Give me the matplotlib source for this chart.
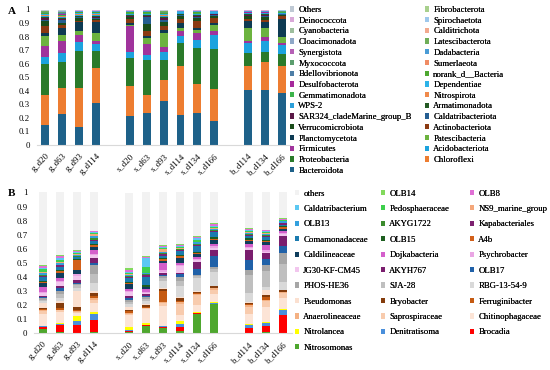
import numpy as np
import matplotlib.pyplot as plt

plt.rcParams['font.family'] = ['Liberation Serif', 'DejaVu Serif']

# sample order on the x axis, '' marks the gap between groups
labels = ['g_d20', 'g_d63', 'g_d93', 'g_d114', '',
          's_d20', 's_d63', 's_d93', 's_d114', 's_d134', 's_d166', '',
          'b_d114', 'b_d134', 'b_d166']

# ---- panel A: phyla, bottom of the stack first ----
phyla = ['Bacteroidota', 'Chloroflexi', 'Proteobacteria', 'Acidobacteriota',
         'Firmicutes', 'Patescibacteria', 'Planctomycetota', 'Actinobacteriota',
         'Verrucomicrobiota', 'Caldatribacteriota', 'SAR324_cladeMarine_group_B',
         'Armatimonadota', 'WPS-2', 'Nitrospirota', 'Gemmatimonadota',
         'Dependentiae', 'Desulfobacterota', 'norank_d__Bacteria',
         'Bdellovibrionota', 'Sumerlaeota', 'Myxococcota', 'Dadabacteria',
         'Synergistota', 'Latescibacterota', 'Cloacimonadota', 'Calditrichota',
         'Cyanobacteria', 'Spirochaetota', 'Deinococcota', 'Fibrobacterota',
         'Others']
phyla_colors = ['#1E6189', '#ED7D31', '#2A7A2A', '#1CA3DE', '#A0339C', '#6CB33F',
                '#0D3A52', '#8B3A12', '#1B4D1B', '#255E91', '#5A1846', '#245A24',
                '#2B9FDA', '#F08A4B', '#3CB44B', '#2CB3E8', '#A6299C', '#4DA830',
                '#4E7EA6', '#F08C64', '#5C9E6E', '#4A9CD6', '#B660B5', '#6FAE58',
                '#8FA8C8', '#F2A98E', '#9DBE9D', '#9EC8EC', '#D9A8D8', '#A8D08D',
                '#BFC9D4']

g_d20_a = [0.15, 0.22, 0.235, 0.045, 0.085, 0.075, 0.02, 0.055, 0.035, 0.01, 0.010, 0.012, 0.008, 0.004, 0.004, 0.003, 0.004, 0.003, 0.003, 0.002, 0.003, 0.002, 0.002, 0.002, 0.001, 0.001, 0.001, 0.001, 0.001, 0.001, 0.008]
g_d63_a = [0.23, 0.19, 0.195, 0.07, 0.085, 0.05, 0.045, 0.025, 0.015, 0.02, 0.008, 0.010, 0.010, 0.005, 0.005, 0.004, 0.005, 0.004, 0.003, 0.003, 0.003, 0.002, 0.002, 0.002, 0.002, 0.001, 0.001, 0.001, 0.001, 0.001, 0.008]
g_d93_a = [0.13, 0.295, 0.275, 0.06, 0.055, 0.03, 0.065, 0.01, 0.02, 0.005, 0.006, 0.008, 0.006, 0.003, 0.004, 0.003, 0.004, 0.003, 0.002, 0.002, 0.002, 0.002, 0.001, 0.001, 0.001, 0.001, 0.001, 0.001, 0.001, 0.001, 0.006]
g_d114_a = [0.315, 0.255, 0.13, 0.05, 0.02, 0.06, 0.085, 0.01, 0.01, 0.01, 0.008, 0.007, 0.008, 0.003, 0.004, 0.003, 0.003, 0.003, 0.002, 0.002, 0.002, 0.002, 0.001, 0.001, 0.001, 0.001, 0.001, 0.001, 0.001, 0.001, 0.006]
s_d20_a = [0.215, 0.22, 0.21, 0.045, 0.19, 0.01, 0.01, 0.035, 0.01, 0.005, 0.008, 0.006, 0.005, 0.003, 0.003, 0.002, 0.003, 0.002, 0.002, 0.002, 0.002, 0.001, 0.001, 0.001, 0.001, 0.001, 0.001, 0.001, 0.001, 0.001, 0.006]
s_d63_a = [0.235, 0.135, 0.26, 0.035, 0.085, 0.045, 0.01, 0.04, 0.05, 0.055, 0.006, 0.008, 0.006, 0.003, 0.003, 0.003, 0.003, 0.002, 0.002, 0.002, 0.002, 0.001, 0.001, 0.001, 0.001, 0.001, 0.001, 0.001, 0.001, 0.001, 0.006]
s_d93_a = [0.33, 0.155, 0.145, 0.06, 0.04, 0.105, 0.02, 0.025, 0.03, 0.015, 0.015, 0.010, 0.008, 0.004, 0.005, 0.003, 0.004, 0.003, 0.003, 0.003, 0.003, 0.002, 0.002, 0.002, 0.001, 0.001, 0.001, 0.001, 0.001, 0.001, 0.008]
s_d114_a = [0.225, 0.36, 0.175, 0.05, 0.035, 0.025, 0.04, 0.03, 0.02, 0.005, 0.004, 0.005, 0.004, 0.002, 0.003, 0.002, 0.002, 0.002, 0.001, 0.001, 0.001, 0.001, 0.001, 0.001, 0.001, 0.001, 0.001, 0.001, 0.001, 0.001, 0.006]
s_d134_a = [0.24, 0.21, 0.27, 0.055, 0.055, 0.02, 0.015, 0.05, 0.025, 0.01, 0.006, 0.007, 0.006, 0.003, 0.003, 0.002, 0.003, 0.002, 0.002, 0.002, 0.002, 0.001, 0.001, 0.001, 0.001, 0.001, 0.001, 0.001, 0.001, 0.001, 0.006]
s_d166_a = [0.18, 0.235, 0.30, 0.10, 0.035, 0.04, 0.015, 0.035, 0.015, 0.01, 0.004, 0.005, 0.004, 0.002, 0.002, 0.002, 0.002, 0.002, 0.001, 0.001, 0.001, 0.001, 0.001, 0.001, 0.001, 0.001, 0.001, 0.001, 0.001, 0.001, 0.006]
b_d114_a = [0.405, 0.18, 0.10, 0.075, 0.015, 0.09, 0.055, 0.015, 0.02, 0.005, 0.005, 0.006, 0.005, 0.002, 0.002, 0.002, 0.002, 0.002, 0.002, 0.001, 0.001, 0.001, 0.001, 0.001, 0.001, 0.001, 0.001, 0.001, 0.001, 0.001, 0.006]
b_d134_a = [0.405, 0.21, 0.075, 0.08, 0.03, 0.07, 0.04, 0.02, 0.02, 0.01, 0.005, 0.006, 0.005, 0.002, 0.002, 0.002, 0.002, 0.002, 0.002, 0.001, 0.001, 0.001, 0.001, 0.001, 0.001, 0.001, 0.001, 0.001, 0.001, 0.001, 0.006]
b_d166_a = [0.39, 0.20, 0.085, 0.07, 0.015, 0.04, 0.14, 0.015, 0.01, 0.005, 0.003, 0.004, 0.004, 0.002, 0.002, 0.002, 0.002, 0.001, 0.001, 0.001, 0.001, 0.001, 0.001, 0.001, 0.001, 0.001, 0.001, 0.001, 0.001, 0.001, 0.005]

# ---- panel B: genera, bottom of the stack first ----
genera = ['Nitrosomonas', 'Brocadia', 'Denitratisoma', 'Nitrolancea',
          'Chitinophagaceae', 'Saprospiraceae', 'Anaerolineaceae',
          'Ferruginibacter', 'Bryobacter', 'Pseudomonas', 'RBG-13-54-9',
          'SJA-28', 'PHOS-HE36', 'OLB17', 'AKYH767', 'JG30-KF-CM45',
          'Psychrobacter', 'Dojkabacteria', 'Caldilineaceae', 'A4b', 'OLB15',
          'Comamonadaceae', 'Kapabacteriales', 'AKYG1722', 'OLB13',
          'NS9_marine_group', 'Pedosphaeraceae', 'Caldatribacterium', 'OLB8',
          'OLB14', 'others']
genera_colors = ['#4EA72E', '#FF0000', '#4A8FDB', '#FFFF00', '#FCE4D6', '#F8CBAD',
                 '#F4B183', '#C55A11', '#843C0C', '#FBE0D0', '#D9D9D9', '#BFBFBF',
                 '#A6A6A6', '#2061A8', '#7A1E6E', '#F2C6EE', '#EAA6E4', '#D45FCB',
                 '#0F3D5C', '#D2601A', '#1D5E1F', '#1B7BAF', '#7D2170', '#3C8C2E',
                 '#33A0DE', '#F4A77A', '#3ECF4C', '#5CC8F2', '#E070D5', '#82D95C',
                 '#F2F2F2']

g_d20_b = [0.03, 0.015, 0.005, 0.005, 0.08, 0.02, 0.01, 0.008, 0.01, 0.03, 0.015, 0.01, 0.01, 0.012, 0.008, 0.02, 0.008, 0.03, 0.03, 0.008, 0.008, 0.03, 0.006, 0.006, 0.012, 0.006, 0.025, 0.01, 0.01, 0.01, 0.513]
g_d63_b = [0.01, 0.05, 0.005, 0.007, 0.08, 0.01, 0.005, 0.01, 0.035, 0.02, 0.02, 0.025, 0.025, 0.02, 0.012, 0.03, 0.01, 0.02, 0.035, 0.01, 0.01, 0.025, 0.008, 0.006, 0.01, 0.008, 0.015, 0.015, 0.015, 0.005, 0.444]
g_d93_b = [0.005, 0.055, 0.025, 0.04, 0.02, 0.005, 0.005, 0.01, 0.02, 0.115, 0.02, 0.02, 0.01, 0.008, 0.02, 0.03, 0.01, 0.005, 0.03, 0.07, 0.008, 0.008, 0.006, 0.005, 0.006, 0.006, 0.006, 0.006, 0.008, 0.008, 0.41]
g_d114_b = [0.01, 0.085, 0.045, 0.008, 0.07, 0.02, 0.01, 0.02, 0.02, 0.01, 0.06, 0.06, 0.07, 0.01, 0.035, 0.02, 0.01, 0.025, 0.025, 0.01, 0.01, 0.02, 0.01, 0.01, 0.02, 0.01, 0.008, 0.008, 0.005, 0.005, 0.27]
s_d20_b = [0.01, 0.005, 0.01, 0.02, 0.085, 0.01, 0.005, 0.01, 0.01, 0.02, 0.02, 0.02, 0.015, 0.01, 0.012, 0.03, 0.01, 0.01, 0.035, 0.008, 0.008, 0.03, 0.006, 0.005, 0.01, 0.008, 0.008, 0.008, 0.015, 0.008, 0.54]
s_d63_b = [0.055, 0.003, 0.003, 0.01, 0.1, 0.005, 0.005, 0.008, 0.012, 0.01, 0.02, 0.015, 0.01, 0.01, 0.01, 0.01, 0.01, 0.02, 0.01, 0.005, 0.01, 0.06, 0.015, 0.005, 0.005, 0.005, 0.04, 0.06, 0.012, 0.006, 0.45]
s_d93_b = [0.04, 0.008, 0.003, 0.003, 0.14, 0.02, 0.01, 0.08, 0.008, 0.01, 0.05, 0.02, 0.015, 0.01, 0.01, 0.01, 0.015, 0.05, 0.015, 0.01, 0.01, 0.015, 0.01, 0.008, 0.008, 0.02, 0.01, 0.005, 0.008, 0.01, 0.37]
s_d114_b = [0.015, 0.03, 0.02, 0.025, 0.04, 0.08, 0.01, 0.01, 0.02, 0.005, 0.08, 0.035, 0.03, 0.02, 0.01, 0.045, 0.01, 0.01, 0.04, 0.01, 0.01, 0.025, 0.01, 0.005, 0.005, 0.005, 0.008, 0.005, 0.006, 0.008, 0.365]
s_d134_b = [0.14, 0.003, 0.003, 0.005, 0.05, 0.07, 0.01, 0.005, 0.01, 0.005, 0.095, 0.01, 0.01, 0.04, 0.05, 0.015, 0.01, 0.01, 0.02, 0.008, 0.01, 0.04, 0.01, 0.008, 0.01, 0.005, 0.01, 0.015, 0.008, 0.006, 0.31]
s_d166_b = [0.21, 0.002, 0.002, 0.006, 0.06, 0.03, 0.01, 0.005, 0.01, 0.005, 0.10, 0.02, 0.01, 0.08, 0.04, 0.02, 0.01, 0.018, 0.025, 0.01, 0.012, 0.035, 0.008, 0.008, 0.01, 0.005, 0.008, 0.008, 0.01, 0.006, 0.22]
b_d114_b = [0.005, 0.035, 0.02, 0.005, 0.075, 0.05, 0.01, 0.005, 0.01, 0.005, 0.065, 0.13, 0.035, 0.07, 0.07, 0.012, 0.01, 0.02, 0.025, 0.008, 0.01, 0.012, 0.01, 0.005, 0.012, 0.005, 0.005, 0.01, 0.005, 0.005, 0.255]
b_d134_b = [0.01, 0.045, 0.02, 0.005, 0.11, 0.04, 0.01, 0.02, 0.015, 0.03, 0.025, 0.11, 0.045, 0.045, 0.04, 0.01, 0.01, 0.04, 0.02, 0.008, 0.008, 0.02, 0.008, 0.005, 0.01, 0.005, 0.005, 0.008, 0.005, 0.005, 0.265]
b_d166_b = [0.003, 0.13, 0.035, 0.006, 0.075, 0.035, 0.008, 0.005, 0.008, 0.005, 0.055, 0.125, 0.085, 0.045, 0.075, 0.012, 0.008, 0.015, 0.015, 0.008, 0.01, 0.01, 0.01, 0.005, 0.008, 0.004, 0.004, 0.005, 0.004, 0.004, 0.185]

samples_a = [g_d20_a, g_d63_a, g_d93_a, g_d114_a, s_d20_a, s_d63_a, s_d93_a,
             s_d114_a, s_d134_a, s_d166_a, b_d114_a, b_d134_a, b_d166_a]
samples_b = [g_d20_b, g_d63_b, g_d93_b, g_d114_b, s_d20_b, s_d63_b, s_d93_b,
             s_d114_b, s_d134_b, s_d166_b, b_d114_b, b_d134_b, b_d166_b]

FS = 6.3


def draw_panel(ax, samples, names, colors):
    x = [i for i, s in enumerate(labels) if s]
    data = np.array(samples, dtype=float)
    data = data / data.sum(axis=1, keepdims=True)  # 100 % stacked
    bottom = np.zeros(len(x))
    handles = []
    for j, (name, col) in enumerate(zip(names, colors)):
        h = ax.bar(x, data[:, j], 0.47, bottom=bottom, color=col, label=name,
                   linewidth=0)
        bottom += data[:, j]
        handles.append(h)
    ax.set_xlim(-0.5, len(labels) - 0.5)
    ax.set_ylim(0, 1)
    yt = np.round(np.arange(0, 1.01, 0.1), 1)
    ax.set_yticks(yt)
    ax.set_yticklabels(['0' if v == 0 else ('1' if v == 1 else f'{v:g}') for v in yt],
                       fontsize=FS)
    ax.set_xticks(range(len(labels)))
    ax.set_xticklabels(labels, rotation=45, ha='right', rotation_mode='anchor',
                       fontsize=FS)
    ax.tick_params(length=0, pad=5)
    for side in ['top', 'right', 'left']:
        ax.spines[side].set_visible(False)
    ax.spines['bottom'].set_color('#D9D9D9')
    ax.spines['bottom'].set_linewidth(0.8)
    return handles


def add_legend(fig, handles, names, ncol, xs, y_top, spacing):
    # Excel style: legend reads row by row, top of the stack first
    rev_h = handles[::-1]
    rev_n = names[::-1]
    for k in range(ncol):
        leg = fig.legend(rev_h[k::ncol], rev_n[k::ncol], loc='upper left',
                         bbox_to_anchor=(xs[k] / 550, 1 - y_top / 370),
                         frameon=False, fontsize=FS, borderpad=0, borderaxespad=0,
                         handlelength=0.55, handleheight=0.55, handletextpad=0.45,
                         labelspacing=spacing)
        fig.add_artist(leg)


fig = plt.figure(figsize=(5.5, 3.7), dpi=100)
ax_a = fig.add_axes([36.8 / 550, 1 - 145 / 370, 253.6 / 550, 135.5 / 370])
ax_b = fig.add_axes([34.4 / 550, 1 - 333.3 / 370, 257.1 / 550, 140.8 / 370])

h_a = draw_panel(ax_a, samples_a, phyla, phyla_colors)
h_b = draw_panel(ax_b, samples_b, genera, genera_colors)

add_legend(fig, h_a, phyla, 2, [289.5, 424.5], 6.0, 0.31)
add_legend(fig, h_b, genera, 3, [294.5, 380.5, 469.5], 189.5, 0.85)

fig.text(8 / 550, 1 - 12 / 370, 'A', fontsize=8, fontweight='bold', va='center')
fig.text(8 / 550, 1 - 194 / 370, 'B', fontsize=8, fontweight='bold', va='center')

fig.savefig('out.png', dpi=100)
